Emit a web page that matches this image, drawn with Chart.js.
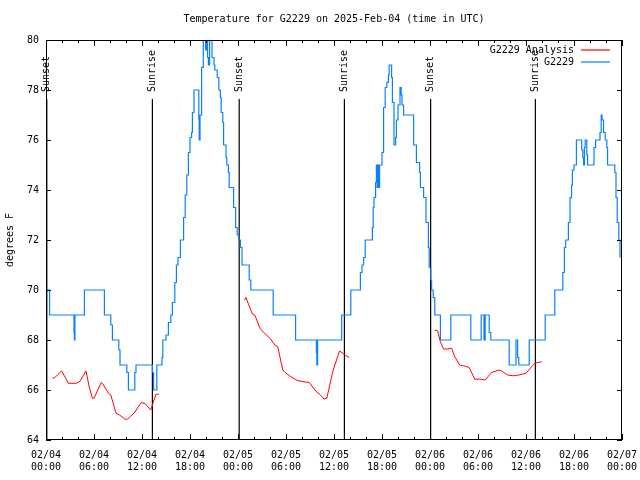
<!DOCTYPE html>
<html>
<head>
<meta charset="utf-8">
<title>Temperature for G2229</title>
<script src="https://cdn.jsdelivr.net/npm/chart.js@4.4.1/dist/chart.umd.min.js"></script>
<style>
  html, body { margin: 0; padding: 0; background: #fff; }
</style>
</head>
<body>
<canvas id="tempChart" width="640" height="480"></canvas>
<script>
const chartTitle = 'Temperature for G2229 on 2025-Feb-04 (time in UTC)';
const yTitle = 'degrees F';

// x tick labels, one pair every 6 hours
const tickDates = ['02/04', '02/04', '02/04', '02/04', '02/05', '02/05', '02/05', '02/05', '02/06', '02/06', '02/06', '02/06', '02/07'];
const tickTimes = ['00:00', '06:00', '12:00', '18:00', '00:00', '06:00', '12:00', '18:00', '00:00', '06:00', '12:00', '18:00', '00:00'];

// observed station temps (hours since 02/04 00:00 UTC, degF), value changes at each hour
const obsHours = [0.1, 0.45, 3.5, 3.55, 3.62, 4.8, 7.3, 8.1, 8.3, 9.1, 9.25, 10.1, 10.3, 11.1, 11.25,
  13.3, 13.45, 13.85, 14.5, 14.6, 15.0, 15.3, 15.6, 15.8, 16.1, 16.3, 16.5, 16.8, 17.2, 17.4, 17.6, 17.8,
  18.0, 18.2, 18.3, 18.5, 19.1, 19.15, 19.25, 19.45, 19.66, 19.95, 20.05, 20.2, 20.3, 20.45, 20.75,
  21.0, 21.1, 21.4, 21.6, 21.8, 21.9, 22.1, 22.2, 22.5, 22.6, 22.8, 22.9, 23.45, 23.7, 23.9, 24.1, 24.3,
  24.5, 25.4, 25.6, 28.4, 31.2, 33.8, 33.85, 33.95, 36.96, 38.1, 39.3, 39.5, 39.7, 39.9, 40.8, 40.9,
  41.0, 41.2, 41.3, 41.4, 41.5, 41.6, 41.7, 42.0, 42.2, 42.4, 42.6, 42.8, 42.9, 43.2, 43.3, 43.5, 43.7,
  43.8, 44.0, 44.25, 44.4, 44.5, 44.7, 45.95, 46.3, 46.7, 46.8, 47.2, 47.5, 47.8, 47.9, 48.1, 48.2,
  48.4, 48.6, 49.3, 50.6, 53.1, 54.4, 54.75, 54.9, 55.4, 55.6, 57.9, 58.75, 58.95, 59.1, 60.4, 62.4,
  63.6, 64.6, 64.8, 64.96, 65.3, 65.5, 65.7, 65.8, 66.0, 66.3, 66.96, 67.1, 67.2, 67.3, 67.4, 67.6,
  67.7, 68.5, 68.7, 69.25, 69.4, 69.5, 69.7, 69.9, 70.1, 70.2, 71.1, 71.25, 71.4, 71.6, 71.75];
const obsTemps = [70, 69, 68.3, 68, 69, 70, 69, 68.6, 68, 67.6, 67, 66.7, 66, 66.7, 67,
  66.7, 66, 67, 67.3, 68, 68.2, 68.7, 69, 69.5, 70.3, 71, 71.3, 72, 72.9, 73.8, 74.6, 75.5,
  76.1, 76.3, 77.1, 78, 76.8, 76, 77, 78.9, 80.6, 79.6, 80.6, 79.3, 79.0, 80.6, 79.3,
  79.0, 78.8, 78.5, 78, 77.7, 77.1, 76.7, 75.8, 75.3, 75, 74.7, 74.1, 73.3, 72.5, 72.2, 72, 71.7,
  71, 70.4, 70, 69, 68, 67.5, 67, 68, 69, 70, 70.7, 71, 71.3, 72, 72.5, 73.3,
  73.7, 74.3, 75, 74.1, 75, 74.1, 75, 75.5, 77.3, 78.1, 78.3, 78.6, 79, 78.5, 77.5, 75.8, 76.1,
  76.8, 77.4, 78.1, 77.8, 77.4, 77, 75.8, 75.1, 74.7, 74.1, 73.7, 72.7, 71.7, 70.9, 70.4, 70,
  69.7, 69, 68, 69, 68, 69, 68, 69, 68.3, 68, 67, 68, 67.3, 67, 68, 69,
  70, 70.7, 71.7, 72, 72.7, 73.7, 74.2, 74.8, 75, 76, 75.6, 75.3, 75, 75.7, 76, 75.4,
  75, 75.7, 76, 76.3, 77, 76.8, 76.3, 76, 75.7, 75, 74.7, 73.7, 72.7, 72, 71.3];

// analysis temps, null marks a gap between runs
const anaHours = [0.8, 1.1, 1.96, 2.8, 3.8, 4.25, 5.0, 5.4, 5.8, 6.0, 6.9, 7.1, 7.8, 8.1, 8.75, 9.2, 9.9,
  10.2, 10.5, 11.0, 11.9, 12.4, 13.1, 13.4, 13.75, 14.1, 19.0,
  24.8, 25.0, 25.5, 25.8, 26.1, 26.75, 27.2, 28.0, 28.6, 28.96, 29.6, 29.9, 30.6, 31.5, 32.9, 33.8,
  34.3, 34.75, 35.1, 35.8, 36.1, 36.7, 37.4, 37.9, 43.0,
  48.6, 48.95, 49.3, 49.7, 50.2, 50.7, 51.1, 51.7, 52.2, 52.9, 53.6, 54.25, 54.9, 55.7, 56.6, 56.9,
  57.7, 58.4, 59.1, 60.0, 60.7, 61.1, 61.96];
const anaTemps = [66.47, 66.5, 66.76, 66.27, 66.27, 66.35, 66.76, 66.13, 65.67, 65.67, 66.3, 66.25, 65.87, 65.8, 65.07, 65.0, 64.83,
  64.83, 64.93, 65.07, 65.5, 65.45, 65.2, 65.5, 65.83, 65.83, null,
  69.6, 69.7, 69.27, 69.04, 69.0, 68.47, 68.3, 68.07, 67.8, 67.73, 66.8, 66.7, 66.53, 66.37, 66.3, 65.93,
  65.8, 65.64, 65.67, 66.67, 67.0, 67.56, 67.4, 67.3, null,
  68.4, 68.37, 67.93, 67.64, 67.64, 67.67, 67.33, 67.0, 66.97, 66.9, 66.43, 66.44, 66.4, 66.7, 66.8, 66.77,
  66.6, 66.57, 66.6, 66.67, 66.93, 67.07, 67.13];

// sunrise / sunset markers
const sunHours = [0.1, 13.3, 24.15, 37.3, 48.08, 61.17];
const sunLabels = ['Sunset', 'Sunrise', 'Sunset', 'Sunrise', 'Sunset', 'Sunrise'];
const sunLineTop = 77.64;
const sunTextBase = 77.92;

const seriesNames = ['G2229 Analysis', 'G2229'];
const seriesColors = ['#ff0000', '#0a80ff'];

Chart.defaults.font.family = "'DejaVu Sans Mono', monospace";
Chart.defaults.font.size = 10;
Chart.defaults.color = '#000';

const datasets = [
  {
    label: seriesNames[0],
    data: anaHours.map((h, i) => ({ x: h, y: anaTemps[i] })),
    borderColor: seriesColors[0],
    borderWidth: 1,
    pointRadius: 0,
    tension: 0,
    spanGaps: false
  },
  {
    label: seriesNames[1],
    data: obsHours.map((h, i) => ({ x: h, y: obsTemps[i] })),
    borderColor: seriesColors[1],
    borderWidth: 1.2,
    pointRadius: 0,
    stepped: true
  }
];
sunHours.forEach((h) => {
  datasets.push({
    label: '',
    data: [{ x: h, y: 64 }, { x: h, y: sunLineTop }],
    borderColor: '#000',
    borderWidth: 1.2,
    pointRadius: 0
  });
});

// frame, inward ticks, title, sun labels and key, drawn gnuplot style
const decorPlugin = {
  id: 'decor',
  afterDatasetsDraw(chart) {
    const ctx = chart.ctx;
    const a = chart.chartArea;
    const xs = chart.scales.x;
    const ys = chart.scales.y;
    ctx.save();
    ctx.strokeStyle = '#000';
    ctx.lineWidth = 1;
    ctx.strokeRect(a.left + 0.5, a.top + 0.5, a.right - a.left - 1, a.bottom - a.top - 1);
    ctx.beginPath();
    xs.ticks.forEach((t) => {
      const px = Math.round(xs.getPixelForValue(t.value)) + 0.5;
      const len = t.value % 6 === 0 ? 6 : 3;
      ctx.moveTo(px, a.bottom);
      ctx.lineTo(px, a.bottom - len);
      ctx.moveTo(px, a.top);
      ctx.lineTo(px, a.top + len);
    });
    ys.ticks.forEach((t) => {
      const py = Math.round(ys.getPixelForValue(t.value)) + 0.5;
      ctx.moveTo(a.left, py);
      ctx.lineTo(a.left + 5, py);
      ctx.moveTo(a.right, py);
      ctx.lineTo(a.right - 5, py);
    });
    ctx.stroke();

    ctx.fillStyle = '#000';
    ctx.font = "10px 'DejaVu Sans Mono'";
    ctx.textAlign = 'center';
    ctx.textBaseline = 'middle';
    ctx.fillText(chartTitle, (a.left + a.right) / 2, 19);

    sunHours.forEach((h, i) => {
      ctx.save();
      ctx.translate(xs.getPixelForValue(h), ys.getPixelForValue(sunTextBase));
      ctx.rotate(-Math.PI / 2);
      ctx.textAlign = 'left';
      ctx.textBaseline = 'middle';
      ctx.fillText(sunLabels[i], 0, 0);
      ctx.restore();
    });

    ctx.textAlign = 'right';
    seriesNames.forEach((name, i) => {
      const y = a.top + 10 + i * 12;
      ctx.fillText(name, a.right - 48, y);
      ctx.strokeStyle = seriesColors[i];
      ctx.lineWidth = 1.2;
      ctx.beginPath();
      ctx.moveTo(a.right - 41, y);
      ctx.lineTo(a.right - 12, y);
      ctx.stroke();
    });
    ctx.restore();
  }
};

new Chart(document.getElementById('tempChart'), {
  type: 'line',
  data: { datasets: datasets },
  options: {
    responsive: false,
    animation: false,
    layout: { padding: { left: 0, right: 18, top: 40, bottom: 0 } },
    plugins: {
      legend: { display: false },
      tooltip: { enabled: false }
    },
    scales: {
      x: {
        type: 'linear',
        min: 0,
        max: 72,
        grid: { display: false, drawTicks: false },
        border: { display: false },
        afterFit: (s) => { s.height = 40; s.paddingLeft = 0; s.paddingRight = 0; },
        ticks: {
          stepSize: 2,
          autoSkip: false,
          maxRotation: 0,
          padding: 9,
          callback: (v) => {
            if (v % 6 !== 0) return '';
            const i = v / 6;
            return [tickDates[i], tickTimes[i]];
          }
        }
      },
      y: {
        min: 64,
        max: 80,
        grid: { display: false, drawTicks: false },
        border: { display: false },
        afterFit: (s) => { s.width = 46; },
        title: { display: true, text: yTitle, padding: { top: 4, bottom: 0 } },
        ticks: { stepSize: 2, padding: 7 }
      }
    }
  },
  plugins: [decorPlugin]
});
</script>
</body>
</html>
